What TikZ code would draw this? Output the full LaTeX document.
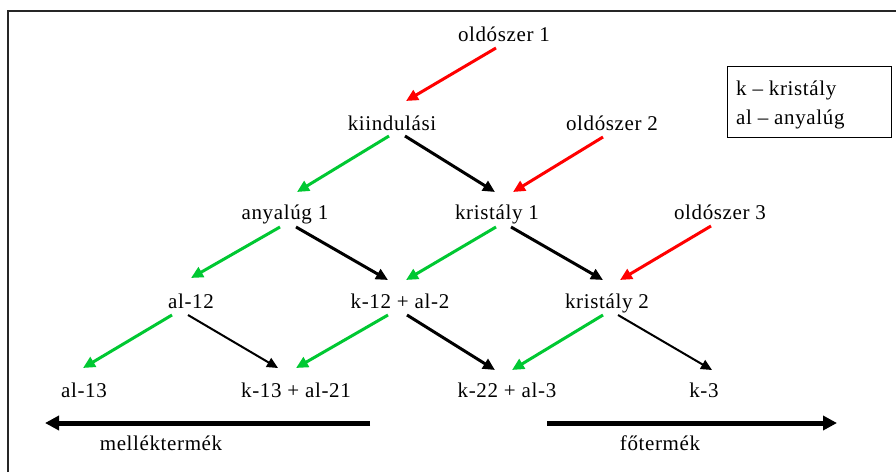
\documentclass[tikz,border=0pt]{standalone}
\usepackage{fontspec}
\setmainfont{Liberation Serif}[LetterSpace=3]
\usetikzlibrary{arrows.meta}
\definecolor{grn}{RGB}{0,200,50}
\definecolor{rd}{RGB}{255,0,0}
\begin{document}
\begin{tikzpicture}[x=1pt,y=-1pt,
  lbl/.style={anchor=base,inner sep=0pt,font=\fontsize{21}{24}\selectfont},
  leglbl/.style={anchor=base west,inner sep=0pt,font=\fontsize{21}{24}\selectfont},
  arr/.style={line width=3pt,-{Triangle[length=12pt,width=11pt]}},
  thinarr/.style={line width=2pt,-{Triangle[length=11pt,width=10pt]}},
  redarr/.style={arr,color=rd},
  grnarr/.style={arr,color=grn},
  blkarr/.style={arr,color=black},
  blkthin/.style={thinarr,color=black},
  bigarr/.style={line width=5pt,-{Triangle[length=14pt,width=14pt]}},
  frameline/.style={line width=2pt,color=black!85},
  legbox/.style={draw,line width=1pt,minimum width=164pt,minimum height=71pt,inner sep=0pt}
]
\useasboundingbox (0,0) rectangle (896,472);
\fill[white] (0,0) rectangle (896,472);
\draw[frameline] (8,472) -- (8,11) -- (896,11);

% legend
\node[legbox] (leg) at (809,101.5) {};
\node[leglbl] (legk) at (736,95) {k -- kristály};
\node[leglbl] (legal) at (736,124) {al -- anyalúg};

% nodes
\node[lbl] (o1) at (504,41) {oldószer 1};
\node[lbl] (kiind) at (392,130) {kiindulási};
\node[lbl] (o2) at (612,130) {oldószer 2};
\node[lbl] (any1) at (285,219) {anyalúg 1};
\node[lbl] (kr1) at (497,219) {kristály 1};
\node[lbl] (o3) at (720,219) {oldószer 3};
\node[lbl] (al12) at (191,308) {al-12};
\node[lbl] (k12) at (400,308) {k-12 + al-2};
\node[lbl] (kr2) at (607,308) {kristály 2};
\node[lbl] (al13) at (84,397) {al-13};
\node[lbl] (k13) at (296,397) {k-13 + al-21};
\node[lbl] (k22) at (507,397) {k-22 + al-3};
\node[lbl] (k3) at (704,397) {k-3};
\node[lbl] (mell) at (161,450) {melléktermék};
\node[lbl] (fo) at (660,450) {főtermék};

% arrows
\draw[redarr] ([shift={(-8,7)}]o1.base) -- ([shift={(14,-29)}]kiind.base);
\draw[grnarr] ([shift={(-3,6)}]kiind.base) -- ([shift={(12,-27)}]any1.base);
\draw[blkarr] ([shift={(13,6)}]kiind.base) -- ([shift={(-2,-27)}]kr1.base);
\draw[redarr] ([shift={(-9,7)}]o2.base) -- ([shift={(16,-27)}]kr1.base);

\draw[grnarr] ([shift={(-5,8)}]any1.base) -- ([shift={(0,-30)}]al12.base);
\draw[blkarr] ([shift={(11,8)}]any1.base) -- ([shift={(-12,-28)}]k12.base);
\draw[grnarr] ([shift={(-1,8)}]kr1.base) -- ([shift={(6,-28)}]k12.base);
\draw[blkarr] ([shift={(14,8)}]kr1.base) -- ([shift={(-4,-28)}]kr2.base);
\draw[redarr] ([shift={(-9,7)}]o3.base) -- ([shift={(13,-28)}]kr2.base);

\draw[grnarr] ([shift={(-19,7)}]al12.base) -- ([shift={(-1,-29)}]al13.base);
\draw[blkthin] ([shift={(-3,7)}]al12.base) -- ([shift={(-18,-29)}]k13.base);
\draw[grnarr] ([shift={(-12,7)}]k12.base) -- ([shift={(0,-29)}]k13.base);
\draw[blkarr] ([shift={(7,7)}]k12.base) -- ([shift={(-12,-27)}]k22.base);
\draw[grnarr] ([shift={(-4,7)}]kr2.base) -- ([shift={(5,-27)}]k22.base);
\draw[blkthin] ([shift={(11,7)}]kr2.base) -- ([shift={(8,-27)}]k3.base);

% product arrows
\coordinate (mA) at (370,423);
\coordinate (mB) at (45,423);
\coordinate (fA) at (547,423);
\coordinate (fB) at (837,423);
\draw[bigarr] (mA) -- (mB);
\draw[bigarr] (fA) -- (fB);
\end{tikzpicture}
\end{document}
